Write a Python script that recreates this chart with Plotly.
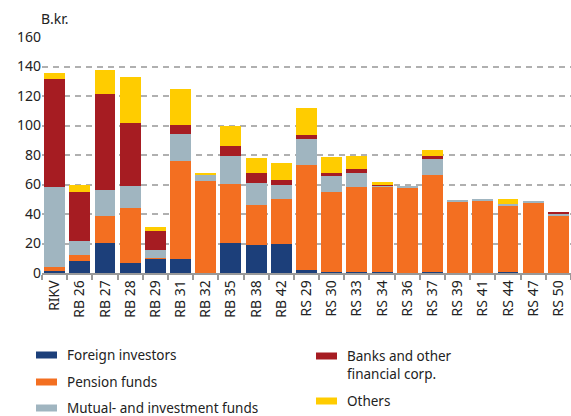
import plotly.graph_objects as go

categories = ['RIKV', 'RB 26', 'RB 27', 'RB 28', 'RB 29', 'RB 31', 'RB 32', 'RB 35', 'RB 38', 'RB 42',
              'RS 29', 'RS 30', 'RS 33', 'RS 34', 'RS 36', 'RS 37', 'RS 39', 'RS 41', 'RS 44', 'RS 47', 'RS 50']

foreign = [1.5, 8.4, 20.6, 7.0, 9.7, 9.7, 0.0, 20.6, 19.2, 19.9,
           2.3, 0.5, 0.5, 0.5, 0.3, 0.5, 0.2, 0.2, 0.5, 0.2, 0.3]
pension = [2.5, 4.0, 18.2, 37.2, 0.7, 66.3, 62.5, 39.8, 27.0, 30.4,
           70.9, 54.5, 57.9, 57.9, 58.0, 66.0, 48.1, 48.7, 45.1, 47.4, 38.5]
mutual = [54.0, 9.6, 17.6, 14.8, 5.4, 18.3, 4.0, 19.0, 14.9, 9.5,
          17.6, 10.8, 9.5, 0.8, 0.9, 10.8, 0.6, 1.4, 1.4, 0.7, 1.4]
banks = [73.5, 33.0, 65.0, 42.7, 12.9, 6.0, 0.0, 6.7, 6.8, 3.3,
         2.7, 2.1, 2.7, 0.5, 0.0, 2.1, 0.0, 0.0, 0.0, 0.0, 0.7]
others = [4.0, 4.8, 16.2, 31.0, 2.7, 24.4, 1.4, 13.5, 10.1, 11.5,
          18.3, 10.8, 8.8, 2.0, 0.0, 4.0, 0.0, 0.0, 3.3, 0.0, 0.0]

series = [
    ('Foreign investors', foreign, '#1c3f7a'),
    ('Pension funds', pension, '#f36f21'),
    ('Mutual- and investment funds', mutual, '#a0b5c0'),
    ('Banks and other<br>financial corp.', banks, '#a61c22'),
    ('Others', others, '#ffcc00'),
]

W, H = 571, 416
L, R, T, B = 42, 0, 37, 143
pw, ph = W - L - R, H - T - B
font = 'Noto Sans'
txt = '#222222'


def px(x):
    return (x - L) / pw


def py(y):
    return (H - B - y) / ph


fig = go.Figure()
for name, vals, col in series:
    fig.add_trace(go.Bar(x=categories, y=vals, name=name, marker_color=col,
                         marker_line_width=0, showlegend=False, hoverinfo='skip'))

# legend drawn by hand: two columns like the original
legend_pos = [(36, 355), (36, 382), (36, 408), (316, 356), (316, 401)]
for (name, vals, col), (x0, yc) in zip(series, legend_pos):
    fig.add_shape(type='rect', xref='paper', yref='paper',
                  x0=px(x0), x1=px(x0 + 21), y0=py(yc - 3.5), y1=py(yc + 3.5),
                  fillcolor=col, line_width=0)
    fig.add_annotation(xref='paper', yref='paper', x=px(x0 + 30), y=py(yc - 10),
                       text=name, showarrow=False, xanchor='left', yanchor='top',
                       align='left', borderpad=0,
                       font=dict(family=font, size=13.5, color=txt))

fig.add_annotation(xref='paper', yref='paper', x=px(39), y=py(18), text='B.kr.',
                   showarrow=False, xanchor='left', yanchor='middle',
                   font=dict(family=font, size=14, color=txt))

fig.update_layout(
    barmode='stack',
    bargap=0.17,
    width=W, height=H,
    margin=dict(l=L, r=R, t=T, b=B),
    paper_bgcolor='white',
    plot_bgcolor='white',
    font=dict(family=font, size=14, color=txt),
    xaxis=dict(
        tickangle=-90, tickson='boundaries', ticks='outside', ticklen=5,
        tickcolor='#999999', tickwidth=1.5, showline=True, linecolor='#999999',
        linewidth=1.5, range=[-0.5, 20.5], tickfont=dict(size=14, color=txt),
    ),
    yaxis=dict(
        range=[0, 160], dtick=20, showgrid=True, gridcolor='#b0b0b0',
        griddash='6px,5px', gridwidth=1.5, zeroline=False, ticks='',
        tickfont=dict(size=14, color=txt),
    ),
)

fig.write_html('out.html', config={'displayModeBar': False},
               post_script="document.body.style.margin='0';")
